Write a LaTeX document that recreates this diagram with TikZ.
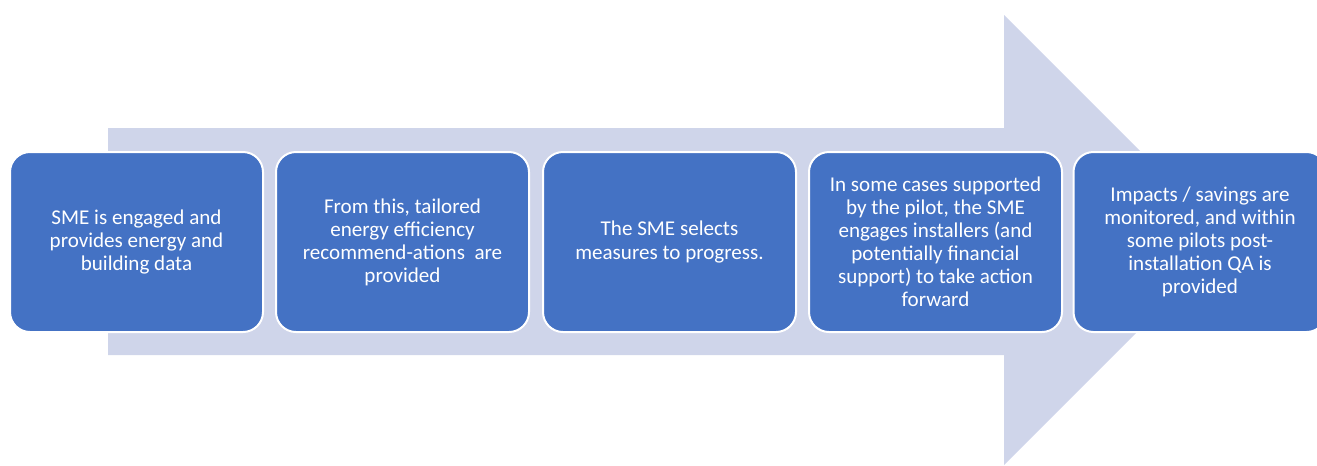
\documentclass[tikz,border=0pt]{standalone}
\usepackage{fontspec}
\setmainfont{Carlito}
\usepackage{tikz}

\definecolor{stepblue}{HTML}{4472C4}
\definecolor{arrowgrey}{HTML}{CFD5EA}

\begin{document}
\begin{tikzpicture}[x=0.75pt,y=-0.75pt,
  stepbox/.style={draw=white,line width=1.5pt,fill=stepblue,rounded corners=15pt,
    minimum width=189.75pt,minimum height=135pt,align=center,text=white,
    font=\fontsize{15.8}{17.3}\selectfont}]
\useasboundingbox (0,0) rectangle (1317,465);
% the big arrow behind the steps
\fill[arrowgrey] (108,128)--(1004,128)--(1004,15)--(1229,240)--(1004,465)--(1004,355)--(108,355)--cycle;
% the five steps
\node[stepbox] (engage) at (136.5,242) {SME is engaged and\\provides energy and\\building data};
\node[stepbox] (advice) at (402.5,242) {From this, tailored\\energy efficiency\\recommend-ations\ \ are\\provided};
\node[stepbox] (select) at (669.5,242) {The SME selects\\measures to progress.};
\node[stepbox] (install) at (935.5,242) {In some cases supported\\by the pilot, the SME\\engages installers (and\\potentially financial\\support) to take action\\forward};
\node[stepbox] (monitor) at (1200,242) {Impacts / savings are\\monitored, and within\\some pilots post-\\installation QA is\\provided};
\end{tikzpicture}
\end{document}
